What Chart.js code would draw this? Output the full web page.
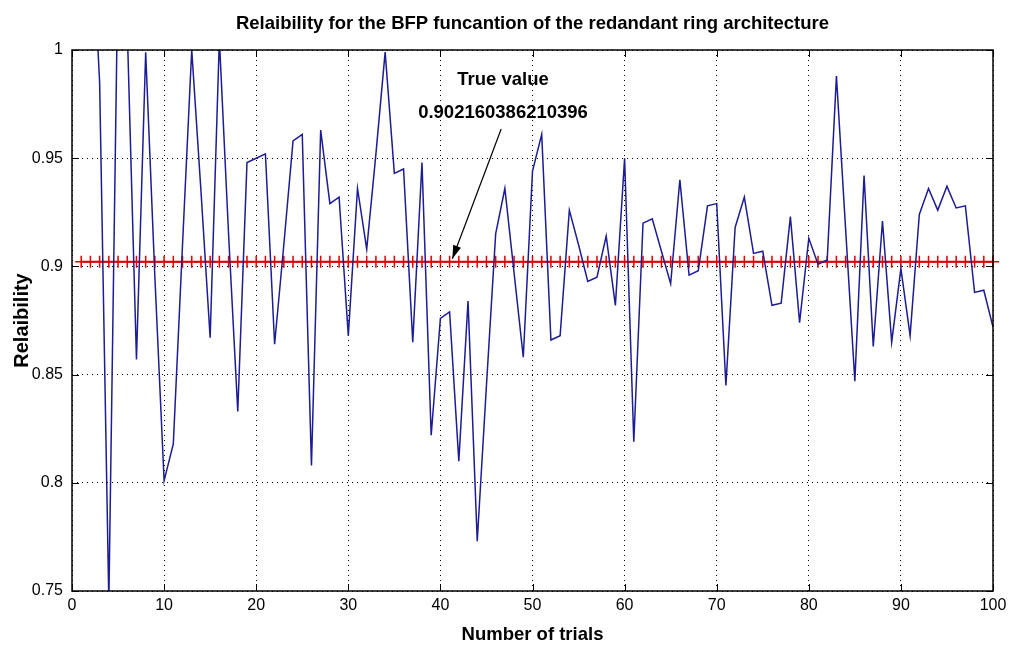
<!DOCTYPE html>
<html>
<head>
<meta charset="utf-8">
<script src="https://cdn.jsdelivr.net/npm/chart.js"></script>
<style>
  html, body { margin: 0; padding: 0; background: #ffffff; }
  #grafica { display: block; }
</style>
</head>
<body>
<canvas id="grafica" width="1019" height="651"></canvas>
<script>
// Número de ensayo (eje x)
var trials = [1, 2, 3, 4, 5, 6, 7, 8, 9, 10,
  11, 12, 13, 14, 15, 16, 17, 18, 19, 20,
  21, 22, 23, 24, 25, 26, 27, 28, 29, 30,
  31, 32, 33, 34, 35, 36, 37, 38, 39, 40,
  41, 42, 43, 44, 45, 46, 47, 48, 49, 50,
  51, 52, 53, 54, 55, 56, 57, 58, 59, 60,
  61, 62, 63, 64, 65, 66, 67, 68, 69, 70,
  71, 72, 73, 74, 75, 76, 77, 78, 79, 80,
  81, 82, 83, 84, 85, 86, 87, 88, 89, 90,
  91, 92, 93, 94, 95, 96, 97, 98, 99, 100];

// Confiabilidad estimada en cada ensayo
var reliability = [1.05, 1.07, 0.985, 0.745, 1.04, 1.01, 0.857, 0.999, 0.895, 0.801,
  0.818, 0.91, 1.0, 0.935, 0.867, 1.005, 0.915, 0.833, 0.948, 0.95,
  0.952, 0.864, 0.91, 0.958, 0.961, 0.808, 0.963, 0.929, 0.932, 0.868,
  0.936, 0.908, 0.952, 0.999, 0.943, 0.945, 0.865, 0.948, 0.822, 0.876,
  0.879, 0.81, 0.884, 0.773, 0.845, 0.915, 0.936, 0.897, 0.858, 0.944,
  0.961, 0.866, 0.868, 0.926, 0.91, 0.893, 0.895, 0.914, 0.882, 0.95,
  0.819, 0.92, 0.922, 0.907, 0.892, 0.94, 0.896, 0.898, 0.928, 0.929,
  0.845, 0.918, 0.932, 0.906, 0.907, 0.882, 0.883, 0.923, 0.874, 0.913,
  0.901, 0.903, 0.988, 0.917, 0.847, 0.942, 0.863, 0.921, 0.865, 0.899,
  0.868, 0.924, 0.936, 0.926, 0.937, 0.927, 0.928, 0.888, 0.889, 0.872];

// Valor verdadero
var trueValue = 0.902160386210396;
var trueLabel = ['True value', '0.902160386210396'];

// Etiquetas de los ejes
var yTickValues = [0.75, 0.8, 0.85, 0.9, 0.95, 1];
var yTickLabels = ['0.75', '0.8', '0.85', '0.9', '0.95', '1'];
var xTickLabels = ['0', '10', '20', '30', '40', '50', '60', '70', '80', '90', '100'];

// Posición de la anotación (coordenadas de datos)
var notePos = { x: 46.8, y1: 0.986, y2: 0.971 };
var arrowFrom = { x: 46.6, y: 0.9635 };
var arrowTo = { x: 41.3, y: 0.9035 };

// Marco, marcas hacia dentro y anotación con flecha
var matlabPlugin = {
  id: 'matlabAxes',
  afterDraw: function (chart) {
    var ctx = chart.ctx;
    var area = chart.chartArea;
    var xs = chart.scales.x;
    var ys = chart.scales.y;
    var len = 7;
    ctx.save();
    ctx.strokeStyle = '#000';
    ctx.lineWidth = 1;
    ctx.setLineDash([]);
    ctx.beginPath();
    for (var i = 0; i < xTickLabels.length; i++) {
      var px = Math.round(xs.getPixelForValue(Number(xTickLabels[i]))) + 0.5;
      ctx.moveTo(px, area.bottom); ctx.lineTo(px, area.bottom - len);
      ctx.moveTo(px, area.top); ctx.lineTo(px, area.top + len);
    }
    for (var j = 0; j < yTickValues.length; j++) {
      var py = Math.round(ys.getPixelForValue(yTickValues[j])) + 0.5;
      ctx.moveTo(area.left, py); ctx.lineTo(area.left + len, py);
      ctx.moveTo(area.right, py); ctx.lineTo(area.right - len, py);
    }
    ctx.stroke();
    ctx.lineWidth = 1.5;
    ctx.strokeRect(area.left, area.top, area.right - area.left, area.bottom - area.top);

    // Texto de la anotación
    ctx.fillStyle = '#000';
    ctx.font = 'bold 18.5px "Liberation Sans", Arial, sans-serif';
    ctx.textAlign = 'center';
    ctx.textBaseline = 'middle';
    var tx = xs.getPixelForValue(notePos.x);
    ctx.fillText(trueLabel[0], tx, ys.getPixelForValue(notePos.y1));
    ctx.fillText(trueLabel[1], tx, ys.getPixelForValue(notePos.y2));

    // Flecha
    var x0 = xs.getPixelForValue(arrowFrom.x), y0 = ys.getPixelForValue(arrowFrom.y);
    var x1 = xs.getPixelForValue(arrowTo.x), y1 = ys.getPixelForValue(arrowTo.y);
    var ang = Math.atan2(y1 - y0, x1 - x0);
    ctx.lineWidth = 1.2;
    ctx.beginPath();
    ctx.moveTo(x0, y0);
    ctx.lineTo(x1, y1);
    ctx.stroke();
    ctx.beginPath();
    ctx.moveTo(x1, y1);
    ctx.lineTo(x1 - 14 * Math.cos(ang - 0.3), y1 - 14 * Math.sin(ang - 0.3));
    ctx.lineTo(x1 - 14 * Math.cos(ang + 0.3), y1 - 14 * Math.sin(ang + 0.3));
    ctx.closePath();
    ctx.fill();
    ctx.restore();
  }
};

var ctx = document.getElementById('grafica').getContext('2d');
var myChart = new Chart(ctx, {
  type: 'line',
  data: {
    datasets: [{
      label: 'Reliability',
      data: trials.map(function (t, i) { return { x: t, y: reliability[i] }; }),
      borderColor: '#1c1c96',
      borderWidth: 1.5,
      pointRadius: 0,
      tension: 0,
      fill: false
    }, {
      label: 'True value',
      data: trials.map(function (t) { return { x: t, y: trueValue }; }),
      borderColor: '#e00000',
      backgroundColor: '#e00000',
      borderWidth: 2,
      pointStyle: 'cross',
      pointRadius: 6,
      pointBorderWidth: 1.5,
      pointBorderColor: '#e00000',
      clip: 8,
      fill: false
    }]
  },
  options: {
    responsive: false,
    animation: false,
    devicePixelRatio: 1,
    layout: { padding: { top: 0, right: 26, bottom: 0, left: 0 } },
    plugins: {
      legend: { display: false },
      tooltip: { enabled: false },
      title: {
        display: true,
        fullSize: false,
        text: 'Relaibility for the BFP funcantion of the redandant ring architecture',
        color: '#000',
        font: { family: '"Liberation Sans", Arial, sans-serif', size: 18.5, weight: 'bold' },
        padding: { top: 13, bottom: 14.8 }
      }
    },
    scales: {
      x: {
        type: 'linear',
        position: 'bottom',
        min: 0,
        max: 100,
        afterFit: function (s) { s.height = 60; },
        ticks: {
          stepSize: 10,
          padding: 5,
          color: '#000',
          maxRotation: 0,
          font: { family: '"Liberation Sans Narrow", "Arial Narrow", "Liberation Sans", sans-serif', size: 16 },
          callback: function (v) { return xTickLabels[Math.round(v / 10)]; }
        },
        grid: { color: '#000', lineWidth: 1, drawTicks: false },
        border: { display: false, dash: [1, 4] },
        title: {
          display: true,
          text: 'Number of trials',
          color: '#000',
          font: { family: '"Liberation Sans", Arial, sans-serif', size: 18.5, weight: 'bold' },
          padding: { top: 0, bottom: 5 }
        }
      },
      y: {
        type: 'linear',
        position: 'left',
        min: 0.75,
        max: 1,
        afterFit: function (s) { s.width = 72; },
        afterBuildTicks: function (s) { s.ticks = yTickValues.map(function (v) { return { value: v }; }); },
        ticks: {
          padding: 9,
          color: '#000',
          font: { family: '"Liberation Sans Narrow", "Arial Narrow", "Liberation Sans", sans-serif', size: 16 },
          callback: function (v) {
            var k = yTickValues.findIndex(function (t) { return Math.abs(t - v) < 1e-6; });
            return k >= 0 ? yTickLabels[k] : '';
          }
        },
        grid: { color: '#000', lineWidth: 1, drawTicks: false },
        border: { display: false, dash: [1, 4] },
        title: {
          display: true,
          text: 'Relaibility',
          color: '#000',
          font: { family: '"Liberation Sans", Arial, sans-serif', size: 20, weight: 'bold' },
          padding: { top: 10, bottom: 0 }
        }
      }
    }
  },
  plugins: [matlabPlugin]
});
</script>
</body>
</html>
